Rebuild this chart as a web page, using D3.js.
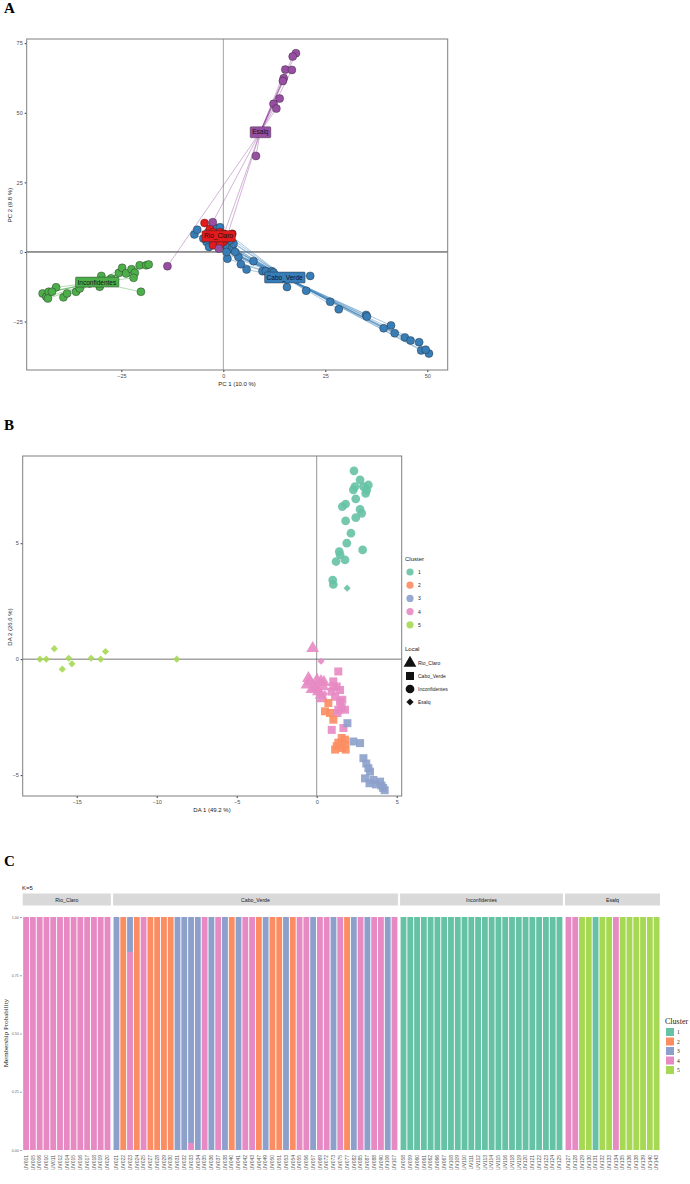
<!DOCTYPE html>
<html>
<head>
<meta charset="utf-8">
<script src="https://cdn.jsdelivr.net/npm/d3@7"></script>
<style>
  body { margin: 0; background: #fff; }
  text { font-family: "Liberation Sans", Arial, sans-serif; }
  .serif { font-family: "Liberation Serif", "Times New Roman", serif; }
</style>
</head>
<body>
<div id="container"></div>
<script>
/* A - PCA by locality */
const popNames = ["Rio_Claro", "Cabo_Verde", "Inconfidentes", "Esalq"];
const popColors = ["#E41A1C", "#377EB8", "#4DAF4A", "#984EA3"];

const pcaRio = [[-4.6,10.4],[-3.3,8.3],[-2.5,7.1],[-0.8,7.1],[0.2,6.5],[2.2,6.5],[-1.6,4.2],[0,3.6],[0.8,4.8],[-4.1,5.4],[-2.5,2.4],[-0.8,2.6],[1.6,5.7]];
const pcaCabo = [[-7.1,6.3],[-6.4,8.0],[-4.1,3.6],[-3.5,1.8],[-1.6,8.6],[-0.8,8.9],[0.8,2.1],[1.0,-2.4],[2.2,1.8],[0.8,0.0],
  [3.7,-1.8],[4.3,-4.4],[5.7,-6.3],[7.4,-3.3],[9.6,-6.9],[10.4,-6.9],[11.9,-6.9],[21.3,-8.6],[15.6,-12.6],[20.3,-13.9],
  [26.2,-17.9],[28.3,-20.6],[35.0,-22.6],[39.3,-27.4],[41.1,-26.4],[42.0,-29.2],[44.5,-30.7],[45.9,-31.8],[48.0,-32.4],[48.5,-35.4],
  [50.4,-36.5],[49.6,-35.1],[-4.9,4.8],[-2.5,3.0],[2.5,3.0],[-3.7,7.1],[1.6,4.2],[35.2,-23.2],[12.3,-7.4],[2.9,0.0],[-1.6,2.4],[-0.8,3.6]];
const pcaInc = [[-44.3,-14.9],[-43.4,-16.1],[-42.8,-14.3],[-43.0,-16.7],[-41.0,-12.7],[-42.0,-14.3],[-39.2,-16.3],[-38.3,-14.9],
  [-36.1,-14.3],[-35.2,-13.1],[-30.3,-12.5],[-29.9,-8.6],[-27.5,-9.5],[-25.6,-7.5],[-24.8,-5.7],[-23.8,-7.7],[-22.5,-6.2],
  [-21.7,-7.5],[-22.0,-9.3],[-20.5,-4.8],[-18.9,-4.8],[-18.3,-4.5],[-20.2,-14.3],[-32.8,-11.3]];
const pcaEsalq = [[17.8,71.4],[17.0,70.2],[15.2,65.5],[16.8,65.4],[14.8,62.4],[14.6,61.4],[13.8,55.1],[12.3,53.2],[13.0,51.5],
  [8.0,34.5],[-13.7,-5.1],[-2.6,10.7],[-1.1,1.2],[1.0,6.0]];
const pcaXTicks = [-25, 0, 25, 50];
const pcaYTicks = [-25, 0, 25, 50, 75];

/* B - DAPC: [DA1, DA2, cluster] */
const clusterColors = ["#66C2A5", "#FC8D62", "#8DA0CB", "#E78AC3", "#A6D854"];
const clusterNames = ["1", "2", "3", "4", "5"];
const daRio = [[-0.25,0.47,4],[-0.42,-0.96,4],[-0.61,-1.11,4],[0.27,-0.96,4],[0.38,-1.18,4],[0.27,-1.55,4],[-0.1,-1.25,4],
  [0.33,-1.7,4],[0.02,-0.9,4],[-0.52,-0.83,4],[0.1,-1.4,4],[-0.3,-1.3,4],[0.45,-1.0,4]];
const daCabo = [[1.35,-0.53,4],[1.04,-0.96,4],[1.25,-1.18,4],[0.94,-1.4,4],[1.46,-1.33,4],[1.15,-1.62,4],[1.6,-1.75,4],
  [1.35,-2.18,4],[1.77,-2.18,4],[1.67,-2.97,4],[0.94,-3.05,4],[1.46,-1.83,4],[1.04,-1.18,4],[1.56,-2.1,4],[1.3,-2.32,4],
  [0.73,-1.89,2],[0.52,-2.25,2],[1.04,-2.61,2],[1.56,-3.4,2],[1.77,-3.47,2],[1.15,-3.9,2],[1.56,-3.83,2],[1.77,-3.68,2],
  [1.35,-3.6,2],[0.83,-2.32,2],[1.25,-3.75,2],[1.81,-3.9,2],
  [1.92,-2.76,3],[2.29,-3.55,3],[2.71,-3.62,3],[2.92,-4.27,3],[3.23,-4.7,3],[3.33,-4.85,3],[3.02,-5.14,3],[3.54,-5.21,3],
  [3.96,-5.28,3],[4.05,-5.45,3],[4.25,-5.65,3],[3.7,-5.4,3],[3.3,-5.35,3],[4.15,-5.55,3],[3.1,-4.5,3]];
const daInc = [[2.33,8.12,1],[2.71,7.73,1],[2.39,7.44,1],[2.92,7.44,1],[3.23,7.51,1],[3.06,7.15,1],[2.44,6.91,1],[1.6,6.58,1],
  [1.81,6.69,1],[2.71,6.46,1],[2.81,6.29,1],[2.44,6.1,1],[1.81,5.96,1],[2.14,5.43,1],[1.88,5.0,1],[1.41,4.64,1],[1.21,4.21,1],
  [1.77,4.28,1],[2.87,4.71,1],[1.0,3.41,1],[1.04,3.22,1],[1.46,4.5,1],[2.29,7.3,1],[3.13,7.3,1]];
const daEsalq = [[-17.3,0,5],[-16.9,0,5],[-16.4,0.45,5],[-15.9,-0.43,5],[-15.5,0.04,5],[-15.3,-0.2,5],[-14.1,0.04,5],
  [-13.5,0,5],[-13.2,0.33,5],[-8.75,0,5],[1.9,3.06,1],[0.27,-0.09,4],[-0.1,-1.2,4],[0.5,-1.5,4]];
const daXTicks = [-15, -10, -5, 0, 5];
const daYTicks = [-5, 0, 5];

/* C - membership (cluster of each individual) */
const idRio = ["UV001","UV005","UV006","UV010","UV011","UV012","UV014","UV015","UV016","UV017","UV018","UV019","UV020"];
const idCabo = ["UV021","UV022","UV023","UV024","UV025","UV027","UV028","UV029","UV030","UV031","UV032","UV033","UV034",
  "UV035","UV036","UV037","UV038","UV040","UV041","UV042","UV043","UV047","UV049","UV050","UV051","UV053","UV054","UV055",
  "UV056","UV057","UV069","UV072","UV073","UV075","UV077","UV082","UV085","UV087","UV088","UV090","UV106","UV107"];
const idInc = ["UV058","UV059","UV060","UV061","UV062","UV066","UV067","UV108","UV109","UV110","UV111","UV112","UV113",
  "UV114","UV115","UV116","UV118","UV119","UV120","UV121","UV122","UV123","UV124","UV125"];
const idEsalq = ["UV127","UV128","UV129","UV130","UV131","UV132","UV133","UV134","UV135","UV136","UV138","UV139","UV140","UV143"];
const grpRio = [4,4,4,4,4,4,4,4,4,4,4,4,4];
const grpCabo = [3,2,3,2,4,2,2,2,2,3,3,4,3,4,3,4,3,2,3,4,4,2,3,2,2,3,2,4,4,3,4,4,3,4,2,3,4,3,4,4,3,4];
const grpInc = [1,1,1,1,1,1,1,1,1,1,1,1,1,1,1,1,1,1,1,1,1,1,1,1];
const grpEsalq = [4,4,5,5,1,5,5,4,5,5,5,5,5,5];
// individuals with mixed membership: [id, cluster1..cluster5]
const mixed = [["UV023", 0, 0, 0.15, 0.85, 0], ["UV033", 0, 0, 0.97, 0.03, 0]];
const probTicks = [0, 0.25, 0.5, 0.75, 1];

const svg = d3.select("#container").append("svg")
  .attr("width", 690).attr("height", 1184);

function panelLetter(t, x, y) {
  svg.append("text").attr("class", "serif").attr("x", x).attr("y", y)
    .attr("font-size", 15).attr("font-weight", "bold").text(t);
}

/* ---------- A ---------- */
panelLetter("A", 4, 13);
const xA = d3.scaleLinear().domain([-48.2, 55.0]).range([26.7, 447.7]);
const yA = d3.scaleLinear().domain([-42.4, 76.5]).range([370, 39]);
const gA = svg.append("g");

gA.append("g").attr("transform", "translate(0,370)")
  .call(d3.axisBottom(xA).tickValues(pcaXTicks).tickSize(2).tickPadding(2))
  .call(g => g.select(".domain").remove());
gA.append("g").attr("transform", "translate(26.7,0)")
  .call(d3.axisLeft(yA).tickValues(pcaYTicks).tickSize(2).tickPadding(2))
  .call(g => g.select(".domain").remove());
gA.selectAll(".tick text").attr("font-size", 5.5).attr("fill", "#4d4d4d").attr("font-family", "Liberation Sans");
gA.selectAll(".tick line").attr("stroke", "#333");

gA.append("line").attr("x1", xA(0)).attr("x2", xA(0)).attr("y1", 39).attr("y2", 370)
  .attr("stroke", "#8a8a8a").attr("stroke-width", 0.8);
gA.append("line").attr("x1", 26.7).attr("x2", 447.7).attr("y1", yA(0)).attr("y2", yA(0))
  .attr("stroke", "#333").attr("stroke-width", 1);

const pcaSets = [pcaCabo, pcaInc, pcaRio, pcaEsalq];
const pcaIdx = [1, 2, 0, 3];
const cents = pcaSets.map(s => [d3.mean(s, d => d[0]), d3.mean(s, d => d[1])]);

pcaSets.forEach((s, i) => {
  gA.append("g").selectAll("line").data(s).join("line")
    .attr("x1", xA(cents[i][0])).attr("y1", yA(cents[i][1]))
    .attr("x2", d => xA(d[0])).attr("y2", d => yA(d[1]))
    .attr("stroke", popColors[pcaIdx[i]]).attr("stroke-width", 0.5).attr("opacity", 0.85);
});
pcaSets.forEach((s, i) => {
  gA.append("g").selectAll("circle").data(s).join("circle")
    .attr("cx", d => xA(d[0])).attr("cy", d => yA(d[1])).attr("r", 4)
    .attr("fill", popColors[pcaIdx[i]]).attr("stroke", "#222").attr("stroke-width", 0.4);
});
pcaSets.forEach((s, i) => {
  const name = popNames[pcaIdx[i]];
  const lg = gA.append("g").attr("transform", `translate(${xA(cents[i][0])},${yA(cents[i][1])})`);
  const t = lg.append("text").attr("text-anchor", "middle").attr("dy", "0.35em")
    .attr("font-size", 6.5).attr("fill", "#111").text(name);
  const bb = t.node().getBBox();
  lg.insert("rect", "text").attr("x", bb.x - 2).attr("y", bb.y - 1.5)
    .attr("width", bb.width + 4).attr("height", bb.height + 3).attr("rx", 1)
    .attr("fill", popColors[pcaIdx[i]]).attr("stroke", "#222").attr("stroke-width", 0.4);
});

gA.append("rect").attr("x", 26.7).attr("y", 39).attr("width", 421).attr("height", 331)
  .attr("fill", "none").attr("stroke", "#7f7f7f").attr("stroke-width", 1);
gA.append("text").attr("x", 237).attr("y", 386).attr("text-anchor", "middle")
  .attr("font-size", 6).attr("fill", "#222").text("PC 1 (10.0 %)");
gA.append("text").attr("transform", "translate(12,205) rotate(-90)").attr("text-anchor", "middle")
  .attr("font-size", 6).attr("fill", "#222").text("PC 2 (9.8 %)");

/* ---------- B ---------- */
panelLetter("B", 4, 430);
const xB = d3.scaleLinear().domain([-18.375, 5.3125]).range([22.7, 401.7]);
const yB = d3.scaleLinear().domain([-5.9, 8.76]).range([796, 456]);
const gB = svg.append("g");

gB.append("g").attr("transform", "translate(0,796)")
  .call(d3.axisBottom(xB).tickValues(daXTicks).tickSize(2).tickPadding(2))
  .call(g => g.select(".domain").remove());
gB.append("g").attr("transform", "translate(22.7,0)")
  .call(d3.axisLeft(yB).tickValues(daYTicks).tickSize(2).tickPadding(2))
  .call(g => g.select(".domain").remove());
gB.selectAll(".tick text").attr("font-size", 5.5).attr("fill", "#4d4d4d");
gB.selectAll(".tick line").attr("stroke", "#333");

gB.append("line").attr("x1", xB(0)).attr("x2", xB(0)).attr("y1", 456).attr("y2", 796)
  .attr("stroke", "#777").attr("stroke-width", 0.8);
gB.append("line").attr("x1", 22.7).attr("x2", 401.7).attr("y1", yB(0)).attr("y2", yB(0))
  .attr("stroke", "#666").attr("stroke-width", 0.9);

const shapes = [d3.symbolTriangle, d3.symbolSquare, d3.symbolCircle, d3.symbolSquare];
const shapeSize = [70, 64, 60, 26];
const shapeRot = [0, 0, 0, 45];
[daRio, daCabo, daInc, daEsalq].forEach((s, i) => {
  gB.append("g").selectAll("path").data(s).join("path")
    .attr("d", d3.symbol(shapes[i], shapeSize[i]))
    .attr("transform", d => `translate(${xB(d[0])},${yB(d[1])}) rotate(${shapeRot[i]})`)
    .attr("fill", d => clusterColors[d[2] - 1]).attr("opacity", 0.9);
});

gB.append("rect").attr("x", 22.7).attr("y", 456).attr("width", 379).attr("height", 340)
  .attr("fill", "none").attr("stroke", "#7f7f7f").attr("stroke-width", 1);
gB.append("text").attr("x", 212).attr("y", 812).attr("text-anchor", "middle")
  .attr("font-size", 6).attr("fill", "#222").text("DA 1 (49.2 %)");
gB.append("text").attr("transform", "translate(12,627) rotate(-90)").attr("text-anchor", "middle")
  .attr("font-size", 6).attr("fill", "#222").text("DA 2 (26.6 %)");

// legend
const lgB = svg.append("g");
lgB.append("text").attr("x", 405).attr("y", 561).attr("font-size", 6).attr("fill", "#222").text("Cluster");
clusterNames.forEach((c, i) => {
  lgB.append("circle").attr("cx", 410).attr("cy", 572 + i * 13.2).attr("r", 3.6)
    .attr("fill", clusterColors[i]).attr("opacity", 0.9);
  lgB.append("text").attr("x", 418).attr("y", 574 + i * 13.2).attr("font-size", 5).attr("fill", "#222").text(c);
});
lgB.append("text").attr("x", 405).attr("y", 651).attr("font-size", 6).attr("fill", "#222").text("Local");
popNames.forEach((p, i) => {
  lgB.append("path").attr("d", d3.symbol(shapes[i], shapeSize[i]))
    .attr("transform", `translate(410,${663 + i * 13}) rotate(${shapeRot[i]})`).attr("fill", "#111");
  lgB.append("text").attr("x", 418).attr("y", 665 + i * 13).attr("font-size", 5).attr("fill", "#222").text(p);
});

/* ---------- C ---------- */
panelLetter("C", 4, 866);
const gC = svg.append("g");
const ids = [idRio, idCabo, idInc, idEsalq];
const grps = [grpRio, grpCabo, grpInc, grpEsalq];
const yC = d3.scaleLinear().domain([0, 1]).range([1150, 917]);
const left = 22.7, right = 660, gap = 2.2;
const nTot = d3.sum(ids, d => d.length);
const unit = (right - left - gap * 3) / nTot;

gC.append("text").attr("x", 22).attr("y", 890).attr("font-size", 6).attr("fill", "#222").text("K=5");

let x0 = left;
ids.forEach((idl, p) => {
  const w = idl.length * unit;
  const xs = d3.scaleBand().domain(idl).range([x0, x0 + w]).paddingInner(0.14).paddingOuter(0.07);
  gC.append("rect").attr("x", x0).attr("y", 893.5).attr("width", w).attr("height", 12).attr("fill", "#d9d9d9");
  gC.append("text").attr("x", x0 + w / 2).attr("y", 901.5).attr("text-anchor", "middle")
    .attr("font-size", 5.2).attr("fill", "#1a1a1a").text(popNames[p]);

  const stacks = idl.map((id, j) => {
    const m = mixed.find(r => r[0] === id);
    const probs = m ? m.slice(1) : clusterNames.map((c, k) => (k + 1 === grps[p][j] ? 1 : 0));
    return { id, probs };
  });
  stacks.forEach(s => {
    let acc = 0;
    // cluster 1 on top, so stack from cluster 5 upward
    for (let k = 4; k >= 0; k--) {
      if (s.probs[k] <= 0) continue;
      gC.append("rect").attr("x", xs(s.id)).attr("width", xs.bandwidth())
        .attr("y", yC(acc + s.probs[k])).attr("height", yC(acc) - yC(acc + s.probs[k]))
        .attr("fill", clusterColors[k]);
      acc += s.probs[k];
    }
  });
  const ax = gC.append("g").attr("transform", "translate(0,1150)")
    .call(d3.axisBottom(xs).tickSize(0).tickPadding(4))
    .call(g => g.select(".domain").remove());
  ax.selectAll("text").attr("font-size", 5).attr("fill", "#555")
    .attr("transform", "rotate(-90)").attr("text-anchor", "end")
    .attr("x", -5).attr("y", 0).attr("dy", "0.35em");
  x0 += w + gap;
});

const ayC = gC.append("g").attr("transform", `translate(${left - 1},0)`)
  .call(d3.axisLeft(yC).tickValues(probTicks).tickFormat(d3.format(".2f")).tickSize(1.5).tickPadding(1.5))
  .call(g => g.select(".domain").remove());
ayC.selectAll("text").attr("font-size", 3.6).attr("fill", "#666");
ayC.selectAll("line").attr("stroke", "#888");

gC.append("text").attr("class", "serif").attr("transform", "translate(8,1033) rotate(-90)")
  .attr("text-anchor", "middle").attr("font-size", 7).attr("fill", "#222").text("Membership Probability");

gC.append("text").attr("class", "serif").attr("x", 665).attr("y", 1024).attr("font-size", 8).attr("fill", "#222").text("Cluster");
clusterNames.forEach((c, i) => {
  gC.append("rect").attr("x", 666).attr("y", 1028 + i * 9.5).attr("width", 8).attr("height", 8).attr("fill", clusterColors[i]);
  gC.append("text").attr("class", "serif").attr("x", 677).attr("y", 1034 + i * 9.5)
    .attr("font-size", 5.5).attr("fill", "#222").text(c);
});
</script>
</body>
</html>
